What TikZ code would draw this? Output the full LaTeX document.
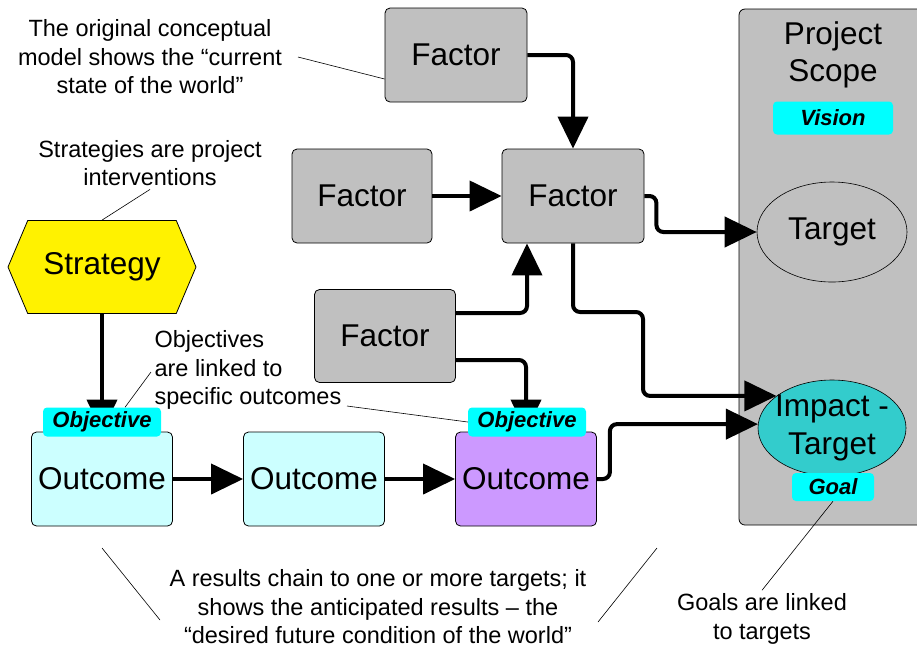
\documentclass[tikz,border=0pt]{standalone}
\usepackage{fontspec}
\setmainfont{Liberation Sans}
\usetikzlibrary{positioning}
\usetikzlibrary{calc}
\usetikzlibrary{arrows.meta,shapes.geometric,shapes.symbols}

\definecolor{factorgray}{HTML}{C0C0C0}
\definecolor{outcomecyan}{HTML}{CCFFFF}
\definecolor{outcomepurple}{HTML}{CC99FF}
\definecolor{impactteal}{HTML}{33CCCC}
\definecolor{tagcyan}{HTML}{00FFFF}

\begin{document}
\begin{tikzpicture}[x=1pt,y=-1pt,
  factor/.style={draw,line width=0.8pt,rounded corners=5pt,fill=factorgray,minimum width=142pt,minimum height=94pt,inner sep=0pt,font=\fontsize{31.5}{37}\selectfont},
  outcome/.style={factor,fill=outcomecyan,minimum width=141pt},
  tag/.style={fill=tagcyan,rounded corners=4pt,inner sep=0pt,minimum height=29pt,font=\fontsize{22}{26}\selectfont\bfseries\itshape},
  target/.style={ellipse,draw,line width=0.6pt,fill=factorgray,inner xsep=-8pt,inner ysep=-6pt,minimum width=150pt,minimum height=100pt,align=center,font=\fontsize{31.5}{38}\selectfont},
  note/.style={align=center,font=\fontsize{23.5}{28.5}\selectfont},
  flow/.style={line width=4pt,rounded corners=7pt,-{Triangle[length=32pt,width=30pt]}},
  pointer/.style={line width=0.6pt}]
\useasboundingbox (0,0) rectangle (917,657);

% project scope
\node[draw,line width=0.8pt,rounded corners=6pt,fill=factorgray,minimum width=190pt,minimum height=516pt](scope) at (834,267){};
\node[align=center,font=\fontsize{31.5}{37}\selectfont](scopetext) at (833,55){Project\\Scope};
\node[target](target) at (832,232){Target};
\node[target,fill=impactteal,minimum width=148pt,minimum height=96pt](impact) at (832,428){Impact -\\Target};

% factors
\node[factor](f1) at (456,55){Factor};
\node[factor,minimum width=140pt](f2) at (362,196){Factor};
\node[factor](f3) at (573,196){Factor};
\node[factor,minimum width=141pt,minimum height=93pt](f4) at (385,336){Factor};

% strategy and results chain
\node[draw,line width=0.8pt,fill=yellow,shape=signal,signal to=east and west,signal pointer angle=134,minimum width=188pt,minimum height=93pt,inner sep=0pt,font=\fontsize{31.5}{37}\selectfont](strat) at (102,267){Strategy};
\node[outcome](o1) at (102,479){Outcome};
\node[outcome](o2) at (314,479){Outcome};
\node[outcome,fill=outcomepurple](o3) at (526,479){Outcome};

\path
(f2.east) edge[flow] (f3.west)
(strat.south) edge[flow] (o1.north)
(o1.east) edge[flow] (o2.west)
(o2.east) edge[flow] (o3.west);
\draw[flow] (f1.east) -| (f3.north);
\draw[flow] ([yshift=23pt]f4.east) -| ([xshift=-46pt]f3.south);
\draw[flow] ([yshift=-24pt]f4.east) -| (o3.north);
\draw[flow] (f3.east) -- ++(12,0) |- (target.west);
\draw[flow] (f3.south) |- (643,312) |- (impact.150);
\draw[flow] (o3.east) -- ++(13,0) |- (impact.177);

% tags
\node[tag,minimum width=118pt](obj1) at (102,422){Objective};
\node[tag,minimum width=118pt](obj2) at (527,422){Objective};
\node[tag,minimum width=120pt,minimum height=33pt](vision) at (833,118){Vision};
\node[tag,minimum width=82pt,minimum height=28pt](goal) at (833,487){Goal};

% notes
\node[note](noteworld) at (150,57){The original conceptual\\model shows the “current\\state of the world”};
\node[note](notestrat) at (150,163){Strategies are project\\interventions};
\node[note,align=left,anchor=west](noteobj) at (151,370){Objectives\\are linked to\\specific outcomes};
\node[note](notechain) at (378,607){A results chain to one or more targets; it\\shows the anticipated results – the\\“desired future condition of the world”};
\node[note](notegoal) at (762,619){Goals are linked\\to targets};

\coordinate (worldend) at (298,57);
\coordinate (objend) at (347,406);
\coordinate (chainA) at (102,548);
\coordinate (chainB) at (160,620);
\coordinate (chainC) at (657,548);
\coordinate (chainD) at (598,622);

\draw[pointer] (worldend) -- ([yshift=-24pt]f1.west);
\draw[pointer] (notestrat.south) -- (strat.north);
\draw[pointer] ([yshift=-2pt]noteobj.west) -- ([xshift=23pt]obj1.north);
\draw[pointer] (objend) -- (obj2.west);
\draw[pointer] (chainA) -- (chainB);
\draw[pointer] (chainC) -- (chainD);
\draw[pointer] (goal.south) -- (notegoal.north);
\end{tikzpicture}
\end{document}
